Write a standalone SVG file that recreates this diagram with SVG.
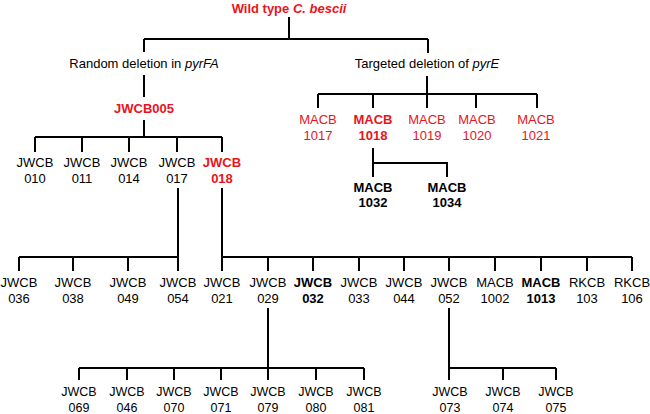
<svg xmlns="http://www.w3.org/2000/svg" width="650" height="414" viewBox="0 0 650 414">
<style>
text{font-family:"Liberation Sans",Arial,sans-serif;font-size:13px;text-anchor:middle;fill:#000}
.red{fill:#e8141c}
.b{font-weight:bold}
.sm{font-size:12.5px}
#connectors path{fill:none;stroke:#000;stroke-width:2}
</style>
<rect width="650" height="414" fill="#fff"/>
<g id="connectors">
<path d="M289 17V39M144 39H428M144 39V52M428 39V53"/>
<path d="M144 75V97M144 120V137M35 137H222M35 137V152M82 137V152M129 137V152M177 137V152M222 137V152"/>
<path d="M427 76V94M318 94H537M318 94V108M373 94V108M427 94V108M476 94V108M537 94V108"/>
<path d="M373 148V177M373 163H447V177"/>
<path d="M178 188V271M19 257H178M19 257V271M73 257V271M128 257V271"/>
<path d="M222 188V271M222 257H632M268 257V271M313 257V271M359 257V271M404 257V271M449 257V271M495 257V271M541 257V271M587 257V271M632 257V271"/>
<path d="M268 308V380M79 368H364M79 368V380M127 368V380M174 368V380M221 368V380M316 368V380M364 368V380"/>
<path d="M449 308V380M449 368H556M503 368V380M556 368V380"/>
</g>
<g id="wildtype"><text x="289" y="13" class="red b">Wild type <tspan font-style="italic">C. bescii</tspan></text></g>
<g id="random"><text x="144" y="68">Random deletion in <tspan font-style="italic">pyrFA</tspan></text></g>
<g id="targeted"><text x="427" y="68">Targeted deletion of <tspan font-style="italic">pyrE</tspan></text></g>
<g id="JWCB005"><text x="144" y="113" class="red b">JWCB005</text></g>
<g id="JWCB010"><text x="35" y="167">JWCB</text><text x="35" y="183">010</text></g>
<g id="JWCB011"><text x="82" y="167">JWCB</text><text x="82" y="183">011</text></g>
<g id="JWCB014"><text x="129" y="167">JWCB</text><text x="129" y="183">014</text></g>
<g id="JWCB017"><text x="177" y="167">JWCB</text><text x="177" y="183">017</text></g>
<g id="JWCB018" class="red b"><text x="222" y="167" class="red b">JWCB</text><text x="222" y="183" class="red b">018</text></g>
<g id="MACB1017"><text x="318" y="124" class="red">MACB</text><text x="318" y="140" class="red">1017</text></g>
<g id="MACB1018"><text x="373" y="124" class="red b">MACB</text><text x="373" y="140" class="red b">1018</text></g>
<g id="MACB1019"><text x="427" y="124" class="red">MACB</text><text x="427" y="140" class="red">1019</text></g>
<g id="MACB1020"><text x="477" y="124" class="red">MACB</text><text x="477" y="140" class="red">1020</text></g>
<g id="MACB1021"><text x="536" y="124" class="red">MACB</text><text x="536" y="140" class="red">1021</text></g>
<g id="MACB1032"><text x="373" y="192" class="b">MACB</text><text x="373" y="207" class="b">1032</text></g>
<g id="MACB1034"><text x="447" y="192" class="b">MACB</text><text x="447" y="207" class="b">1034</text></g>
<g id="JWCB036"><text x="19" y="287">JWCB</text><text x="19" y="303">036</text></g>
<g id="JWCB038"><text x="73" y="287">JWCB</text><text x="73" y="303">038</text></g>
<g id="JWCB049"><text x="128" y="287">JWCB</text><text x="128" y="303">049</text></g>
<g id="JWCB054"><text x="178" y="287">JWCB</text><text x="178" y="303">054</text></g>
<g id="JWCB021"><text x="222" y="287">JWCB</text><text x="222" y="303">021</text></g>
<g id="JWCB029"><text x="268" y="287">JWCB</text><text x="268" y="303">029</text></g>
<g id="JWCB032"><text x="313" y="287" class="b">JWCB</text><text x="313" y="303" class="b">032</text></g>
<g id="JWCB033"><text x="359" y="287">JWCB</text><text x="359" y="303">033</text></g>
<g id="JWCB044"><text x="404" y="287">JWCB</text><text x="404" y="303">044</text></g>
<g id="JWCB052"><text x="449" y="287">JWCB</text><text x="449" y="303">052</text></g>
<g id="MACB1002"><text x="495" y="287">MACB</text><text x="495" y="303">1002</text></g>
<g id="MACB1013"><text x="541" y="287" class="b">MACB</text><text x="541" y="303" class="b">1013</text></g>
<g id="RKCB103"><text x="587" y="287">RKCB</text><text x="587" y="303">103</text></g>
<g id="RKCB106"><text x="632" y="287">RKCB</text><text x="632" y="303">106</text></g>
<g id="JWCB069"><text x="79" y="396" class="sm">JWCB</text><text x="79" y="412" class="sm">069</text></g>
<g id="JWCB046"><text x="127" y="396" class="sm">JWCB</text><text x="127" y="412" class="sm">046</text></g>
<g id="JWCB070"><text x="174" y="396" class="sm">JWCB</text><text x="174" y="412" class="sm">070</text></g>
<g id="JWCB071"><text x="221" y="396" class="sm">JWCB</text><text x="221" y="412" class="sm">071</text></g>
<g id="JWCB079"><text x="268" y="396" class="sm">JWCB</text><text x="268" y="412" class="sm">079</text></g>
<g id="JWCB080"><text x="316" y="396" class="sm">JWCB</text><text x="316" y="412" class="sm">080</text></g>
<g id="JWCB081"><text x="364" y="396" class="sm">JWCB</text><text x="364" y="412" class="sm">081</text></g>
<g id="JWCB073"><text x="450" y="396" class="sm">JWCB</text><text x="450" y="412" class="sm">073</text></g>
<g id="JWCB074"><text x="503" y="396" class="sm">JWCB</text><text x="503" y="412" class="sm">074</text></g>
<g id="JWCB075"><text x="556" y="396" class="sm">JWCB</text><text x="556" y="412" class="sm">075</text></g>
</svg>
